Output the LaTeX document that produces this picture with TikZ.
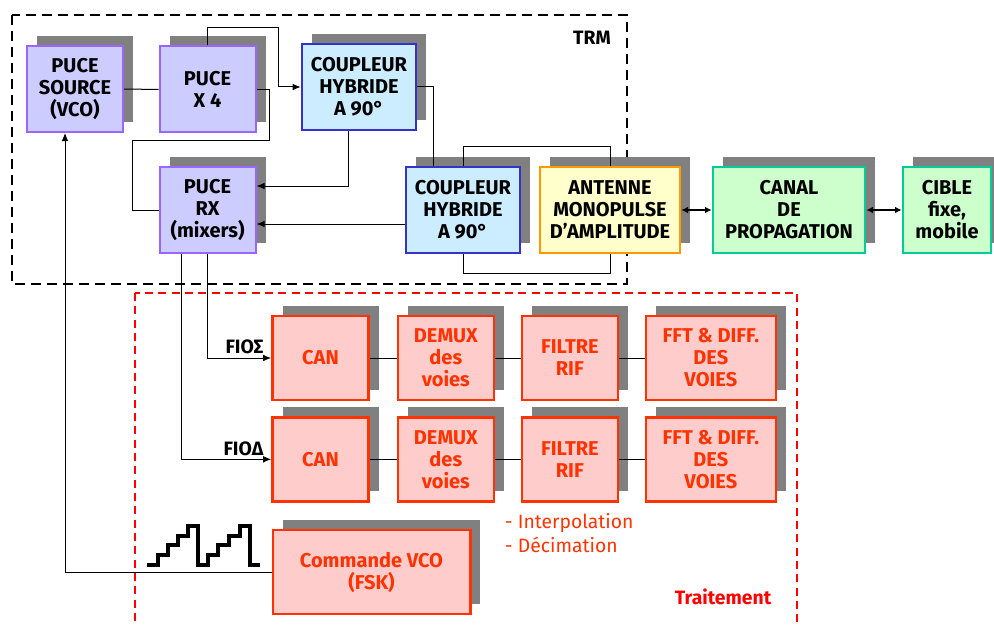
\documentclass[tikz,border=0pt]{standalone}
\usepackage{fontspec}
\setmainfont{Fira Sans}
\usetikzlibrary{arrows.meta, positioning, calc, shadows}
\definecolor{shade}{HTML}{808080}
\definecolor{pucefill}{HTML}{CCCCFF}
\definecolor{pucedraw}{HTML}{9966FF}
\definecolor{hybfill}{HTML}{CCECFF}
\definecolor{hybdraw}{HTML}{3333CC}
\definecolor{antfill}{HTML}{FFFFCC}
\definecolor{antdraw}{HTML}{FF9900}
\definecolor{canfill}{HTML}{CCFFCC}
\definecolor{candraw}{HTML}{00CC99}
\definecolor{trfill}{HTML}{FFCCCC}
\definecolor{trdraw}{HTML}{FF3300}
\definecolor{trzone}{HTML}{FF0000}
\tikzset{
  blk/.style={rectangle,draw,line width=1.5pt,align=center,inner sep=2pt,
    font=\fontsize{15}{16.5}\selectfont\bfseries,
    minimum width=72pt,minimum height=64.5pt,
    drop shadow={shadow xshift=7.5pt,shadow yshift=7.5pt,fill=shade,opacity=1}},
  puce/.style={blk,draw=pucedraw,fill=pucefill},
  hybride/.style={blk,draw=hybdraw,fill=hybfill,line width=2pt,minimum width=85.5pt},
  antenne/.style={blk,draw=antdraw,fill=antfill,line width=2pt,minimum width=105pt},
  canal/.style={blk,draw=candraw,fill=canfill,line width=2pt},
  traite/.style={blk,draw=trdraw,fill=trfill,text=trdraw,line width=2pt,minimum height=63pt},
  lbl/.style={font=\fontsize{14.5}{16}\selectfont\bfseries,inner sep=1pt},
  line/.style={-{Latex[length=6pt,width=5pt]}},
  dline/.style={{Latex[length=5pt,width=5pt]}-{Latex[length=5pt,width=5pt]},line width=1.1pt}
}

\begin{document}
\begin{tikzpicture}[x=0.75pt,y=-0.75pt,line width=0.75pt]
\useasboundingbox (0,0) rectangle (994,624);
\clip (0,0) rectangle (994,624);
% zones
\draw[line width=2pt,dash pattern=on 7.5pt off 4.5pt] (12,15) rectangle (627,284);
\node[lbl] (trm) at (592,38) {TRM};
\draw[trzone,line width=1.5pt,dash pattern=on 6pt off 4pt] (135,293) rectangle (797,640);
\node[lbl,text=trzone] (trt) at (723,597) {Traitement};
% TRM
\node[puce] (src) at (75,89) {PUCE\\SOURCE\\(VCO)};
\node[puce] (x4) at (207.5,89.5) {PUCE\\X 4};
\node[hybride] (cp1) at (359,87) {COUPLEUR\\HYBRIDE\\A 90°};
\node[puce] (rx) at (207.5,210) {PUCE\\RX\\(mixers)};
\node[hybride] (cp2) at (463,210) {COUPLEUR\\HYBRIDE\\A 90°};
\node[antenne] (ant) at (610,210) {ANTENNE\\MONOPULSE\\D'AMPLITUDE};
\node[canal,minimum width=114pt] (can) at (789,210) {CANAL\\DE\\PROPAGATION};
\node[canal,minimum width=66pt] (cib) at (947,210) {CIBLE\\fixe,\\mobile};
% traitement
\node[traite] (can1) at (320.5,358) {CAN};
\node[traite, right=20pt of can1] (dmx1) {DEMUX\\des\\voies};
\node[traite, right=19pt of dmx1] (rif1) {FILTRE\\RIF};
\node[traite, right=19pt of rif1, minimum width=97.5pt] (fft1) {FFT \& DIFF.\\DES\\VOIES};
\node[traite, below=11pt of can1] (can2) {CAN};
\node[traite, right=20pt of can2] (dmx2) {DEMUX\\des\\voies};
\node[traite, right=19pt of dmx2] (rif2) {FILTRE\\RIF};
\node[traite, right=19pt of rif2, minimum width=97.5pt] (fft2) {FFT \& DIFF.\\DES\\VOIES};
\node[traite, minimum width=148pt] (cmd) at (371.5,572) {Commande VCO\\(FSK)};
\node[anchor=west,align=left,text=trdraw,font=\fontsize{14.5}{18}\selectfont] (interp) at (500,533) {- Interpolation\\- Décimation};

\draw (src) -- (x4);
\draw[line] (x4.north) -- ++(0,-18) -- ++(71,0) |- (cp1.west);
\draw (x4.east) -- ++(13,0) |- (132,140) |- (rx.west);
\draw[line] ($(cp1.south)+(-11,0)$) |- ($(rx.east)+(0,-24)$);
\draw (cp1.east) -| ($(cp2.north)+(-30,0)$);
\draw[line] ($(cp2.west)+(0,14)$) -- ($(rx.east)+(0,14)$);
\draw (cp2.north) -- ++(0,-19) -| (ant.north);
\draw (cp2.south) -- ++(0,19) -| (ant.south);
\draw[dline] (ant) -- (can);
\draw[dline] (can) -- (cib);

\draw[line] (rx.south) |- (can1.west);
\node[lbl, anchor=south east] (fis) at ($(can1.west)+(-6,-2)$) {FIOΣ};
\draw[line] ($(rx.south)+(-26,0)$) |- (can2.west);
\node[lbl, anchor=south east] (fid) at ($(can2.west)+(-6,-2)$) {FIOΔ};
\draw (can1) -- (dmx1);
\draw (dmx1) -- (rif1);
\draw (rif1) -- (fft1);
\draw (can2) -- (dmx2);
\draw (dmx2) -- (rif2);
\draw (rif2) -- (fft2);

\draw[line] (cmd.west) -| ($(src.south)+(-10,0)$);
% staircase
\draw[line width=2.4pt] (147,565) -| (158,555) -| (168,545) -| (178,536) -| (188,526) -| (198,565)
  -| (208,555) -| (218,545) -| (229,536) -| (240,526) -| (250,565) -- (260,565);
\end{tikzpicture}
\end{document}
